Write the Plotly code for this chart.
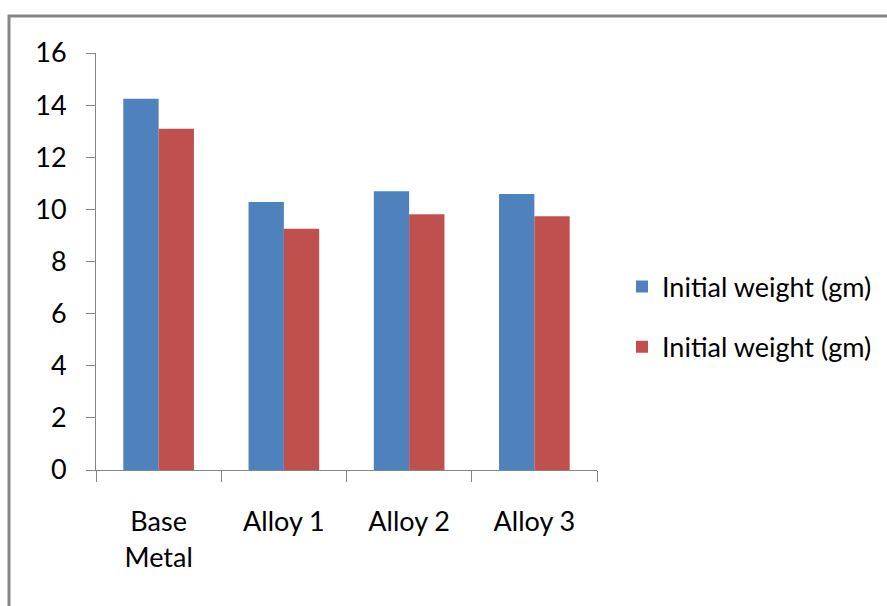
import plotly.graph_objects as go

categories = ["Base<br>Metal", "Alloy 1", "Alloy 2", "Alloy 3"]
series1_name = "Initial weight (gm)"
series2_name = "Initial weight (gm)"
series1_values = [14.24, 10.28, 10.70, 10.59]
series2_values = [13.09, 9.26, 9.81, 9.74]
y_ticks = [0, 2, 4, 6, 8, 10, 12, 14, 16]

FONT = "Lato, sans-serif"
AXIS_COLOR = "#868686"

W, H = 887, 606
L, R, T, B = 96, 290, 53, 136
pw, ph = W - L - R, H - T - B

def px_x(p):
    return (p - L) / pw

def px_y(p):
    return (H - B - p) / ph

fig = go.Figure()
fig.add_trace(go.Bar(x=categories, y=series1_values, name=series1_name,
                     marker=dict(color="#4F81BD", line=dict(width=0)),
                     legendgroup="a", hoverinfo="skip"))
fig.add_trace(go.Bar(x=categories, y=series2_values, name=series2_name,
                     marker=dict(color="#C0504D", line=dict(width=0)),
                     legendgroup="b", hoverinfo="skip"))

fig.update_layout(
    width=W, height=H,
    margin=dict(l=L, r=R, t=T, b=B, pad=0, autoexpand=False),
    paper_bgcolor="white", plot_bgcolor="white",
    barmode="group", bargap=0.436, bargroupgap=0,
    font=dict(family=FONT, size=27, color="#000000"),
    showlegend=True,
    legend=dict(x=px_x(622), xanchor="left", y=px_y(317), yanchor="middle",
                traceorder="grouped", tracegroupgap=22,
                font=dict(family=FONT, size=27, color="#000000"),
                bgcolor="rgba(0,0,0,0)"),
    xaxis=dict(showline=True, linecolor=AXIS_COLOR, linewidth=1,
               ticks="outside", ticklen=11, tickcolor=AXIS_COLOR,
               tickson="boundaries", showgrid=False, zeroline=False,
               ticklabelstandoff=28,
               tickfont=dict(family=FONT, size=27, color="#000000")),
    yaxis=dict(range=[0, 16], tickvals=y_ticks, showline=True,
               linecolor=AXIS_COLOR, linewidth=1, ticks="outside",
               ticklen=9, tickcolor=AXIS_COLOR, showgrid=False,
               zeroline=False, ticklabelstandoff=14,
               tickfont=dict(family=FONT, size=27, color="#000000")),
    shapes=[dict(type="rect", xref="paper", yref="paper",
                 x0=px_x(9), x1=px_x(900), y0=px_y(16), y1=px_y(620),
                 line=dict(color="#878787", width=3), layer="below")],
)

fig.write_html("out.html")
